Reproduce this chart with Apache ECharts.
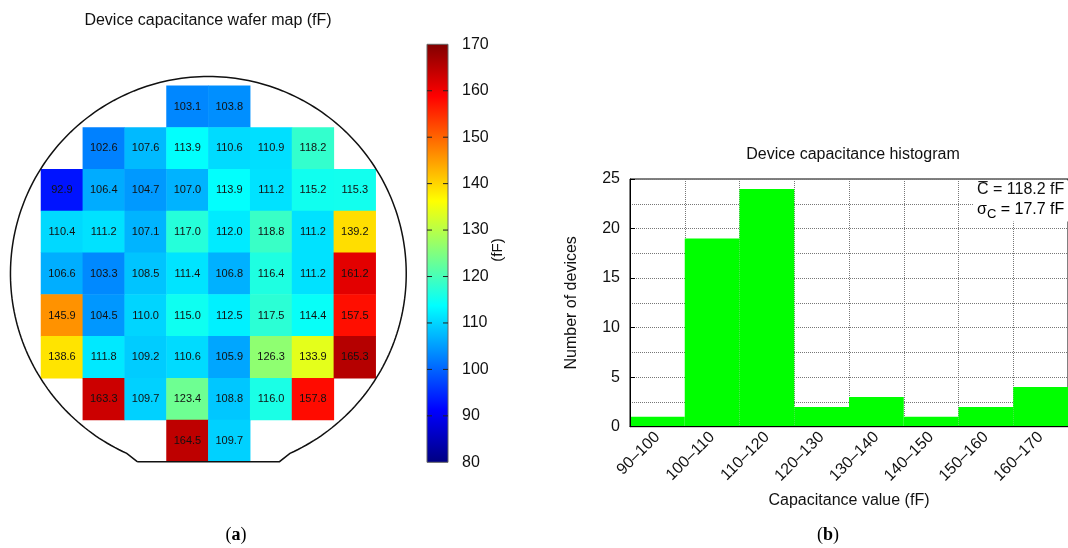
<!DOCTYPE html>
<html>
<head>
<meta charset="utf-8">
<script src="https://cdn.jsdelivr.net/npm/echarts@6/dist/echarts.min.js"></script>
<style>
html,body{margin:0;padding:0;background:#fff;}
#chart{width:1068px;height:548px;}
</style>
</head>
<body>
<div id="chart"></div>
<script>
// ---- data ----
const waferRows = [
  [null, null, null, 103.1, 103.8, null, null, null],
  [null, 102.6, 107.6, 113.9, 110.6, 110.9, 118.2, null],
  [92.9, 106.4, 104.7, 107.0, 113.9, 111.2, 115.2, 115.3],
  [110.4, 111.2, 107.1, 117.0, 112.0, 118.8, 111.2, 139.2],
  [106.6, 103.3, 108.5, 111.4, 106.8, 116.4, 111.2, 161.2],
  [145.9, 104.5, 110.0, 115.0, 112.5, 117.5, 114.4, 157.5],
  [138.6, 111.8, 109.2, 110.6, 105.9, 126.3, 133.9, 165.3],
  [null, 163.3, 109.7, 123.4, 108.8, 116.0, 157.8, null],
  [null, null, null, 164.5, 109.7, null, null, null]
];
const waferCols = ['c1','c2','c3','c4','c5','c6','c7','c8'];
const waferRowNames = ['r1','r2','r3','r4','r5','r6','r7','r8','r9'];
const colorMin = 80;
const colorMax = 170;
const colorStep = 10;
const histCategories = ['90–100','100–110','110–120','120–130','130–140','140–150','150–160','160–170'];
const histCounts = [1, 19, 24, 2, 3, 1, 2, 4];
const histMax = 25;
const meanText = '118.2 fF';
const sigmaText = '17.7 fF';

// jet colormap
const jet = ['#000080','#0000ff','#0080ff','#00ffff','#80ff80','#ffff00','#ff8000','#ff0000','#800000'];

const heatData = [];
waferRows.forEach((row, r) => row.forEach((v, c) => { if (v !== null) heatData.push([c, r, v]); }));

const FONT = "'Liberation Sans', Arial, Helvetica, sans-serif";
const chart = echarts.init(document.getElementById('chart'));

const hiddenLine = { show: false };
const option = {
  animation: false,
  textStyle: { fontFamily: FONT },
  grid: [
    { left: 41, top: 85.7, width: 334.7, height: 376 },
    { left: 427, top: 44.3, width: 21, height: 418 },
    { left: 630, top: 179, width: 447, height: 247.7, show: true, borderColor: '#000', borderWidth: 1, backgroundColor: 'transparent' }
  ],
  visualMap: {
    show: false, type: 'continuous', min: colorMin, max: colorMax, dimension: 2, seriesIndex: 0,
    inRange: { color: jet }
  },
  xAxis: [
    { gridIndex: 0, type: 'category', data: waferCols, show: false },
    { gridIndex: 1, type: 'value', min: 0, max: 1, show: false },
    { gridIndex: 2, type: 'category', data: histCategories, z: 5,
      axisLine: { show: true, lineStyle: { color: '#000', width: 1 } },
      axisTick: { show: false },
      axisLabel: { rotate: 45, margin: 8, fontSize: 16, color: '#111', fontFamily: FONT },
      splitLine: { show: false },
      name: 'Capacitance value (fF)', nameLocation: 'middle', nameGap: 66,
      nameTextStyle: { fontSize: 16, color: '#111', fontFamily: FONT } },
    { gridIndex: 2, type: 'value', min: -0.5, max: histCategories.length - 0.5, interval: 1, position: 'bottom',
      axisLine: hiddenLine, axisTick: hiddenLine, axisLabel: hiddenLine,
      splitLine: { show: true, lineStyle: { type: 'dotted', color: '#777', width: 1 } } }
  ],
  yAxis: [
    { gridIndex: 0, type: 'category', data: waferRowNames, inverse: true, show: false },
    { gridIndex: 1, type: 'value', min: colorMin, max: colorMax, interval: colorStep, position: 'right',
      axisLine: hiddenLine, axisTick: hiddenLine,
      axisLabel: { margin: 14, fontSize: 16, color: '#111', fontFamily: FONT },
      splitLine: hiddenLine },
    { gridIndex: 2, type: 'value', min: 0, max: histMax, interval: 2.5, position: 'left',
      axisLine: hiddenLine, axisTick: hiddenLine,
      axisLabel: { margin: 10, fontSize: 16, color: '#111', fontFamily: FONT,
        formatter: v => (Math.abs(v % 5) < 1e-9 ? String(v) : '') },
      splitLine: { show: true, lineStyle: { type: 'dotted', color: '#777', width: 1 } },
      name: 'Number of devices', nameLocation: 'middle', nameGap: 50, nameRotate: 90,
      nameTextStyle: { fontSize: 16, color: '#111', fontFamily: FONT } },
    { gridIndex: 2, type: 'value', min: 0, max: histMax, interval: 5, z: 5, position: 'left',
      axisLine: { show: true, lineStyle: { color: '#000', width: 1 } },
      axisTick: { show: true, inside: true, length: 5, lineStyle: { color: '#000' } },
      axisLabel: hiddenLine, splitLine: hiddenLine }
  ],
  series: [
    {
      type: 'heatmap', xAxisIndex: 0, yAxisIndex: 0, data: heatData,
      itemStyle: { borderWidth: 0 },
      label: { show: true, fontSize: 11, color: '#111', fontFamily: FONT, formatter: p => p.value[2].toFixed(1) },
      emphasis: { disabled: true }
    },
    {
      type: 'custom', xAxisIndex: 0, yAxisIndex: 0, data: [[0, 0]], clip: false, z: 10, silent: true,
      renderItem: function (params, api) {
        const a = api.coord([0, 0]);
        const b = api.coord([7, 8]);
        const s = api.size([1, 1]);
        const cx = (a[0] + b[0]) / 2, cy = (a[1] + b[1]) / 2;
        const rx = 4.73 * s[0], ry = 4.72 * s[1];
        const yFlat = b[1] + s[1] / 2;
        const yArc = yFlat - 0.2 * s[1];
        const t0 = Math.asin(Math.min(1, (yArc - cy) / ry));
        const flatHalf = 1.7 * s[0];
        const pts = [[cx - flatHalf, yFlat]];
        const n = 240;
        for (let i = 0; i <= n; i++) {
          const t = (Math.PI - t0) + (Math.PI + 2 * t0) * i / n;
          pts.push([cx + rx * Math.cos(t), cy + ry * Math.sin(t)]);
        }
        pts.push([cx + flatHalf, yFlat]);
        pts.push(pts[0]);
        return { type: 'polyline', shape: { points: pts }, style: { stroke: '#111', lineWidth: 1.5, fill: null } };
      }
    },
    {
      type: 'custom', xAxisIndex: 1, yAxisIndex: 1, data: [[0, colorMin]], z: 1, silent: true,
      renderItem: function (params, api) {
        const p1 = api.coord([0, colorMax]);
        const p2 = api.coord([1, colorMin]);
        const stops = jet.slice().reverse().map((c, i) => ({ offset: i / (jet.length - 1), color: c }));
        const children = [{ type: 'rect', shape: { x: p1[0], y: p1[1], width: p2[0] - p1[0], height: p2[1] - p1[1] },
          style: { fill: new echarts.graphic.LinearGradient(0, 0, 0, 1, stops), stroke: '#666', lineWidth: 1 } }];
        for (let v = colorMin + colorStep; v < colorMax; v += colorStep) {
          const y = api.coord([0, v])[1];
          children.push({ type: 'line', shape: { x1: p1[0], y1: y, x2: p1[0] + 5, y2: y }, style: { stroke: '#222', lineWidth: 1 } });
          children.push({ type: 'line', shape: { x1: p2[0] - 5, y1: y, x2: p2[0], y2: y }, style: { stroke: '#222', lineWidth: 1 } });
        }
        return { type: 'group', children: children };
      }
    },
    {
      type: 'bar', xAxisIndex: 2, yAxisIndex: 2, data: histCounts, z: 2,
      barWidth: '100%', barCategoryGap: '0%',
      itemStyle: { color: '#00ff00' },
      emphasis: { disabled: true }
    }
  ],
  graphic: [
    { type: 'text', x: 208, y: 21, style: { text: 'Device capacitance wafer map (fF)', font: '16px ' + FONT, fill: '#111', align: 'center', verticalAlign: 'middle' } },
    { type: 'text', x: 853, y: 155, style: { text: 'Device capacitance histogram', font: '16px ' + FONT, fill: '#111', align: 'center', verticalAlign: 'middle' } },
    { type: 'text', x: 498, y: 250, rotation: Math.PI / 2, style: { text: '(fF)', font: '15px ' + FONT, fill: '#111', align: 'center', verticalAlign: 'middle' } },
    { type: 'rect', z: 15, shape: { x: 973, y: 180.5, width: 100, height: 41 }, style: { fill: '#fff' } },
    { type: 'text', x: 977, y: 190, z: 20, style: { text: 'C\u0305 = ' + meanText, font: '16px ' + FONT, fill: '#111', align: 'left', verticalAlign: 'middle' } },
    { type: 'text', x: 977, y: 210, z: 20, style: {
        text: '{n|σ}{s|C}{n| = ' + sigmaText + '}', align: 'left', verticalAlign: 'middle',
        rich: { n: { fontSize: 16, fontFamily: FONT, color: '#111' }, s: { fontSize: 13, fontFamily: FONT, color: '#111', padding: [9, 0, 0, 0] } } } },
    { type: 'text', x: 236, y: 535, style: {
        text: '{p|(}{b|a}{p|)}', align: 'center', verticalAlign: 'middle',
        rich: { p: { fontSize: 18, fontFamily: "'Liberation Serif', serif", color: '#111' }, b: { fontSize: 18, fontWeight: 'bold', fontFamily: "'Liberation Serif', serif", color: '#111' } } } },
    { type: 'text', x: 828, y: 535, style: {
        text: '{p|(}{b|b}{p|)}', align: 'center', verticalAlign: 'middle',
        rich: { p: { fontSize: 18, fontFamily: "'Liberation Serif', serif", color: '#111' }, b: { fontSize: 18, fontWeight: 'bold', fontFamily: "'Liberation Serif', serif", color: '#111' } } } }
  ]
};
chart.setOption(option);
</script>
</body>
</html>
